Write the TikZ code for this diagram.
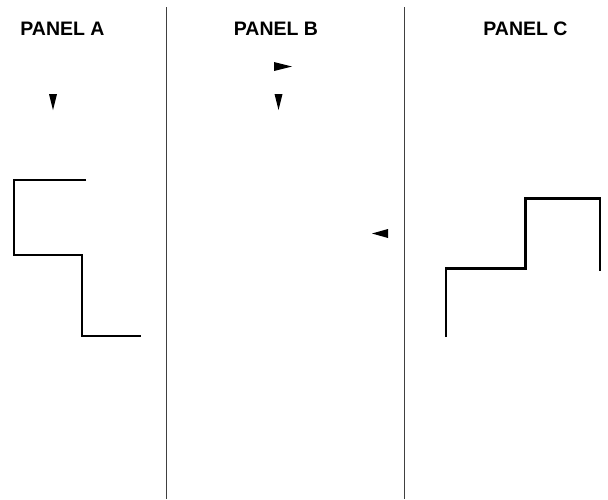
\documentclass[tikz,border=0pt]{standalone}
\usepackage{fontspec}
\setmainfont{Liberation Sans}
\begin{document}
\begin{tikzpicture}[x=1pt,y=-1pt,
  title/.style={font=\fontsize{19.5}{22}\selectfont\bfseries, inner sep=0pt, anchor=base},
  trace/.style={line width=2.6pt, line join=miter, black},
  divider/.style={line width=1pt, black!75},
  pointer/.style={fill=black, draw=none}]
\useasboundingbox (0,0) rectangle (608,499);
% titles
\node[title] (ta) at (62.5,35) {PANEL A};
\node[title] (tb) at (276,35) {PANEL B};
\node[title] (tc) at (525.5,35) {PANEL C};
% dividers
\coordinate (d1t) at (166.5,7);
\coordinate (d1b) at (166.5,499);
\coordinate (d2t) at (404,7);
\coordinate (d2b) at (404,499);
\draw[divider] (d1t) -- (d1b);
\draw[divider] (d2t) -- (d2b);
% pointers
\fill[pointer] (49,94) -- (57,94) -- (53,110) -- cycle;
\fill[pointer] (274,62) -- (292,66.5) -- (274,71) -- cycle;
\fill[pointer] (274.5,94) -- (282.5,94) -- (278.5,110) -- cycle;
\fill[pointer] (388,229) -- (372,233.5) -- (388,238) -- cycle;
% traces
\draw[trace] (86,180) -- (14,180) -- (14,255) -- (82,255) -- (82,336) -- (141,336);
\draw[trace] (446,337) -- (446,268.5) -- (525.5,268.5) -- (525.5,198.5) -- (600,198.5) -- (600,271);
\end{tikzpicture}
\end{document}
